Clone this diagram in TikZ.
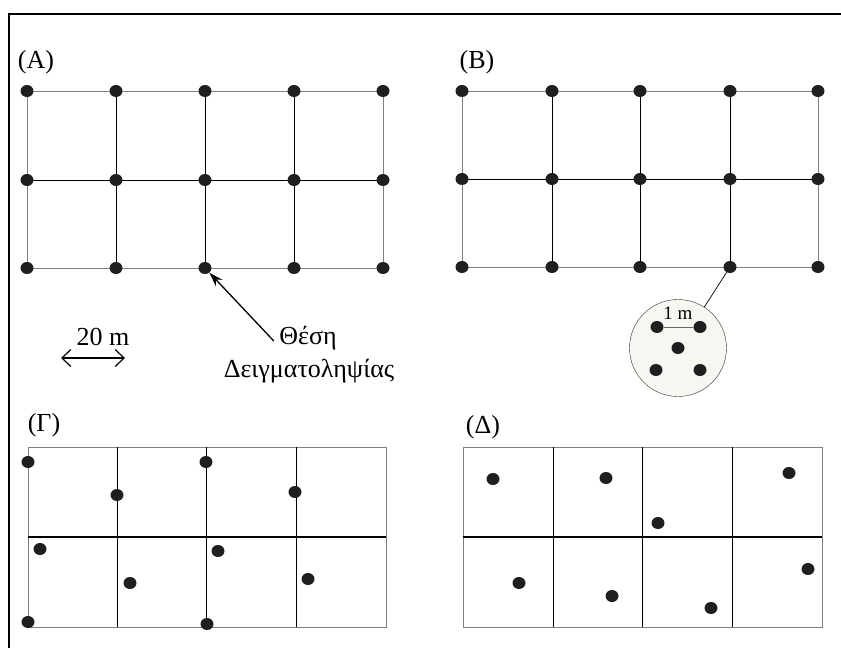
\documentclass[tikz,border=0pt]{standalone}
\usepackage{fontspec}
\setmainfont{Liberation Serif}
\usepackage{xcolor}
\definecolor{InsetBg}{HTML}{F7F7F2}
\usetikzlibrary{arrows.meta,shapes.geometric}

\begin{document}
\begin{tikzpicture}[x=1pt, y=-1pt, >=Latex,
  every node/.style={font=\fontsize{26}{30}\selectfont, align=center},
  spot/.style={ellipse, fill=black!88, inner sep=0pt, minimum width=13pt, minimum height=12pt},
  rim/.style={draw=black!50, line width=0.9pt},
  cut/.style={draw=black, line width=0.9pt}]
  \useasboundingbox (0,0) rectangle (841,657);
  \draw[line width=1.4pt] (841,14) -- (9,14) -- (9,648);

  % (A) and (B): regular grids, a sample at every crossing
  \foreach \x [count=\i] in {27,116,205,294,383}
    \foreach \y [count=\j] in {91,180,268} \coordinate (a\i\j) at (\x,\y);
  \foreach \x [count=\i] in {462,552,640,730,818}
    \foreach \y [count=\j] in {91,179,267} \coordinate (b\i\j) at (\x,\y);
  \foreach \g in {a,b} {
    \draw[rim] (\g11) rectangle (\g53);
    \draw[cut] (\g12) -- (\g52);
    \foreach \i in {2,3,4} \draw[cut] (\g\i1) -- (\g\i3);
    \foreach \i in {1,...,5} \foreach \j in {1,2,3} \node[spot] (p\g\i\j) at (\g\i\j) {};
  }
  \node (labA) at (36,62) {(A)};
  \node (labB) at (477,62) {(B)};

  % (Γ) and (Δ): cells only
  \foreach \x [count=\i] in {28,117,206,296,386}
    \foreach \y [count=\j] in {447,537,627} \coordinate (c\i\j) at (\x,\y);
  \foreach \x [count=\i] in {463,553,642,732,822}
    \foreach \y [count=\j] in {447,537,627} \coordinate (d\i\j) at (\x,\y);
  \foreach \g in {c,d} {
    \draw[rim] (\g11) rectangle (\g53);
    \draw[cut, line width=1.3pt] (\g12) -- (\g52);
    \foreach \i in {2,3,4} \draw[cut] (\g\i1) -- (\g\i3);
  }
  \node (labC) at (44,425) {(Γ)};
  \node (labD) at (483,427) {(Δ)};

  % samples of (Γ)
  \foreach \p [count=\k] in {(28,462),(117,495),(206,462),(295,492),(40,549),
      (130,583),(218,551),(308,579),(28,622),(207,624)}
    \node[spot] (pc\k) at \p {};
  % samples of (Δ)
  \foreach \p [count=\k] in {(493,479),(606,478),(658,523),(789,473),(519,583),
      (612,596),(711,608),(808,569)}
    \node[spot] (pd\k) at \p {};

  % sampling site and scale
  \node (site) at (308,338) {Θέση};
  \node (site2) at (309,371) {Δειγματοληψίας};
  \draw[-{Stealth[length=14pt,width=9pt]}, line width=1.3pt] ([xshift=-2pt,yshift=-3pt]site.west) -- (pa33);
  \node (span) at (103,337) {20 m};
  \coordinate (sL) at (61,358);
  \coordinate (sR) at (125,358);
  \draw[{Straight Barb[length=9pt,width=17pt]}-{Straight Barb[length=9pt,width=17pt]}, line width=1.2pt] (sL) -- (sR);

  % close-up of one site
  \node[circle, draw=black!80, fill=InsetBg, minimum size=97pt, inner sep=0pt] (inset) at (678,348) {};
  \draw[line width=0.7pt] (pb43) -- (inset);
  \node[spot] (s1) at (657,327) {};
  \node[spot] (s2) at (700,327) {};
  \node[spot] (s3) at (678,348) {};
  \node[spot] (s4) at (656,370) {};
  \node[spot] (s5) at (700,370) {};
  \draw[black!60, line width=0.8pt] (s1) -- (s2);
  \node[font=\fontsize{19}{22}\selectfont] (onem) at (678,313) {1 m};
\end{tikzpicture}
\end{document}
